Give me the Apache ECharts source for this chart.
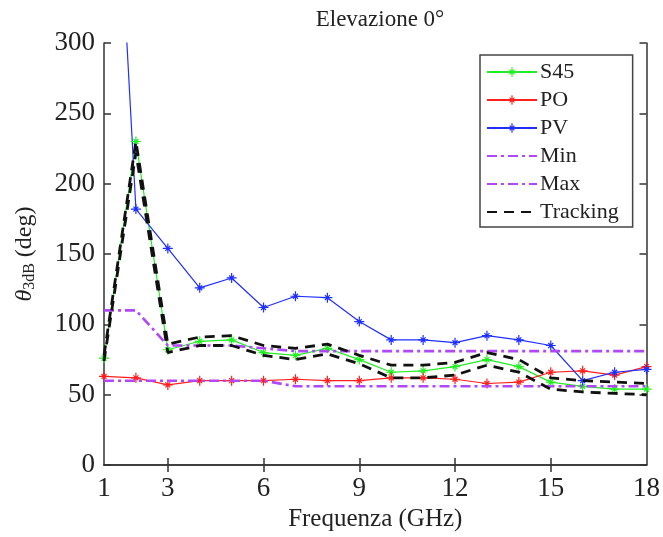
<!DOCTYPE html>
<html>
<head>
<meta charset="utf-8">
<script src="https://cdn.jsdelivr.net/npm/echarts@6/dist/echarts.min.js"></script>
<style>
  html, body { margin: 0; padding: 0; background: #fff; }
  #chart { width: 663px; height: 537px; }
</style>
</head>
<body>
<div id="chart"></div>
<script>
// Frequency points (GHz)
const freq = [1, 2, 3, 4, 5, 6, 7, 8, 9, 10, 11, 12, 13, 14, 15, 16, 17, 18];
// Beamwidth values (deg)
const s45 = [76, 230, 82, 88, 89, 80, 78, 83, 75, 66, 67, 70, 75, 70, 59, 56, 54, 54];
const po  = [63, 62, 57, 60, 60, 60, 61, 60, 60, 62, 62, 61, 58, 59, 66, 67, 64, 70];
const pv  = [600, 182, 154, 126, 133, 112, 120, 119, 102, 89, 89, 87, 92, 89, 85, 60, 66, 68];
const minLimit = [60, 60, 60, 60, 60, 60, 56, 56, 56, 56, 56, 56, 56, 56, 56, 56, 56, 56];
const maxLimit = [110, 110, 85, 85, 85, 83, 81, 81, 81, 81, 81, 81, 81, 81, 81, 81, 81, 81];
const trackHigh = [78, 230, 86, 91, 92, 85, 83, 86, 78, 71, 71, 73, 80, 75, 62, 60, 59, 58];
const trackLow  = [74, 222, 80, 85, 85, 78, 75, 79, 72, 62, 62, 64, 71, 66, 54, 52, 51, 50];
// Axis ticks
const xTickLabels = [1, 3, 6, 9, 12, 15, 18];
const yTicks = [0, 50, 100, 150, 200, 250, 300];

const pairs = (ys) => freq.map((f, i) => [f, ys[i]]);

// Eight-armed asterisk marker
const asterisk = 'path://M-10 -1.2L10 -1.2L10 1.2L-10 1.2Z' +
  'M1.2 -10L1.2 10L-1.2 10L-1.2 -10Z' +
  'M-4.1 -5.8L5.8 4.1L4.1 5.8L-5.8 -4.1Z' +
  'M-5.8 4.1L4.1 -5.8L5.8 -4.1L-4.1 5.8Z';

const serif = "'Liberation Serif', 'DejaVu Serif', serif";
const axisColor = '#333';
const purple = '#b048f8';

function markerSeries(name, data, color) {
  return {
    name, type: 'line', data: pairs(data),
    symbol: asterisk, symbolSize: 10, showSymbol: true,
    itemStyle: { color },
    lineStyle: { color, width: 1.2 },
    clip: true, z: 3
  };
}
function plainSeries(name, data, color, dash, width) {
  return {
    name, type: 'line', data: pairs(data),
    symbol: 'none',
    itemStyle: { color },
    lineStyle: { color, width, type: dash },
    clip: true, z: 4
  };
}

// Legend entries for unmarked series show only their line
const noMarker = { opacity: 0 };

const chart = echarts.init(document.getElementById('chart'), null, { renderer: 'canvas' });

chart.setOption({
  animation: false,
  backgroundColor: '#fff',
  title: {
    text: 'Elevazione 0°',
    left: 375, top: 3, textAlign: 'center',
    textStyle: { fontFamily: serif, fontSize: 23, fontWeight: 'normal', color: '#222' }
  },
  grid: { left: 104, right: 16, top: 43, bottom: 62, containLabel: false },
  legend: {
    orient: 'vertical',
    left: 480, top: 55,
    backgroundColor: '#fff',
    borderColor: '#444', borderWidth: 1.5, borderRadius: 0,
    padding: [6, 14, 4, 6],
    itemGap: 6, itemWidth: 50, itemHeight: 12,
    textStyle: { fontFamily: serif, fontSize: 22, color: '#222', padding: [0, 0, 0, -2] },
    data: [
      'S45', 'PO', 'PV',
      { name: 'Min', itemStyle: noMarker },
      { name: 'Max', itemStyle: noMarker },
      { name: 'Tracking', itemStyle: noMarker }
    ]
  },
  xAxis: [
    {
      type: 'value', position: 'bottom', min: 1, max: 18,
      axisLine: { lineStyle: { color: axisColor, width: 1.5 } },
      axisTick: { inside: true, length: 7, customValues: [3, 6, 9, 12, 15], lineStyle: { color: axisColor, width: 1.5 } },
      axisLabel: { customValues: xTickLabels, margin: 10, fontFamily: serif, fontSize: 27, color: '#222' },
      splitLine: { show: false },
      name: 'Frequenza (GHz)', nameLocation: 'middle', nameGap: 36,
      nameTextStyle: { fontFamily: serif, fontSize: 25, color: '#222' }
    },
    {
      type: 'value', position: 'top', min: 1, max: 18,
      axisLine: { lineStyle: { color: axisColor, width: 1.5 } },
      axisTick: { inside: true, length: 7, customValues: [3, 6, 9, 12, 15], lineStyle: { color: axisColor, width: 1.5 } },
      axisLabel: { show: false },
      splitLine: { show: false }
    }
  ],
  yAxis: [
    {
      type: 'value', position: 'left', min: 0, max: 300, interval: 50,
      axisLine: { show: true, lineStyle: { color: axisColor, width: 1.5 } },
      axisTick: { show: true, inside: true, length: 7, lineStyle: { color: axisColor, width: 1.5 } },
      axisLabel: { customValues: yTicks, margin: 9, fontFamily: serif, fontSize: 27, color: '#222' },
      splitLine: { show: false },
      name: '{t|θ}{s|3dB}{n| (deg)}', nameLocation: 'middle', nameGap: 66, nameRotate: 90,
      nameTextStyle: {
        fontFamily: serif, color: '#222',
        rich: {
          t: { fontFamily: serif, fontSize: 24, fontStyle: 'italic', color: '#222' },
          s: { fontFamily: serif, fontSize: 16, color: '#222', verticalAlign: 'bottom', padding: [10, 0, 0, 0] },
          n: { fontFamily: serif, fontSize: 24, color: '#222' }
        }
      }
    },
    {
      type: 'value', position: 'right', min: 0, max: 300, interval: 50,
      axisLine: { show: true, lineStyle: { color: axisColor, width: 1.5 } },
      axisTick: { show: true, inside: true, length: 7, lineStyle: { color: axisColor, width: 1.5 } },
      axisLabel: { show: false },
      splitLine: { show: false }
    }
  ],
  series: [
    markerSeries('S45', s45, '#22ee22'),
    markerSeries('PO', po, '#ff1f1f'),
    markerSeries('PV', pv, '#1f2fff'),
    plainSeries('Min', minLimit, purple, [10, 4, 3, 4], 2.6),
    plainSeries('Max', maxLimit, purple, [10, 4, 3, 4], 2.6),
    plainSeries('Tracking', trackHigh, '#111', [10, 7], 2.8),
    plainSeries('Tracking', trackLow, '#111', [10, 7], 2.8)
  ]
});
</script>
</body>
</html>
